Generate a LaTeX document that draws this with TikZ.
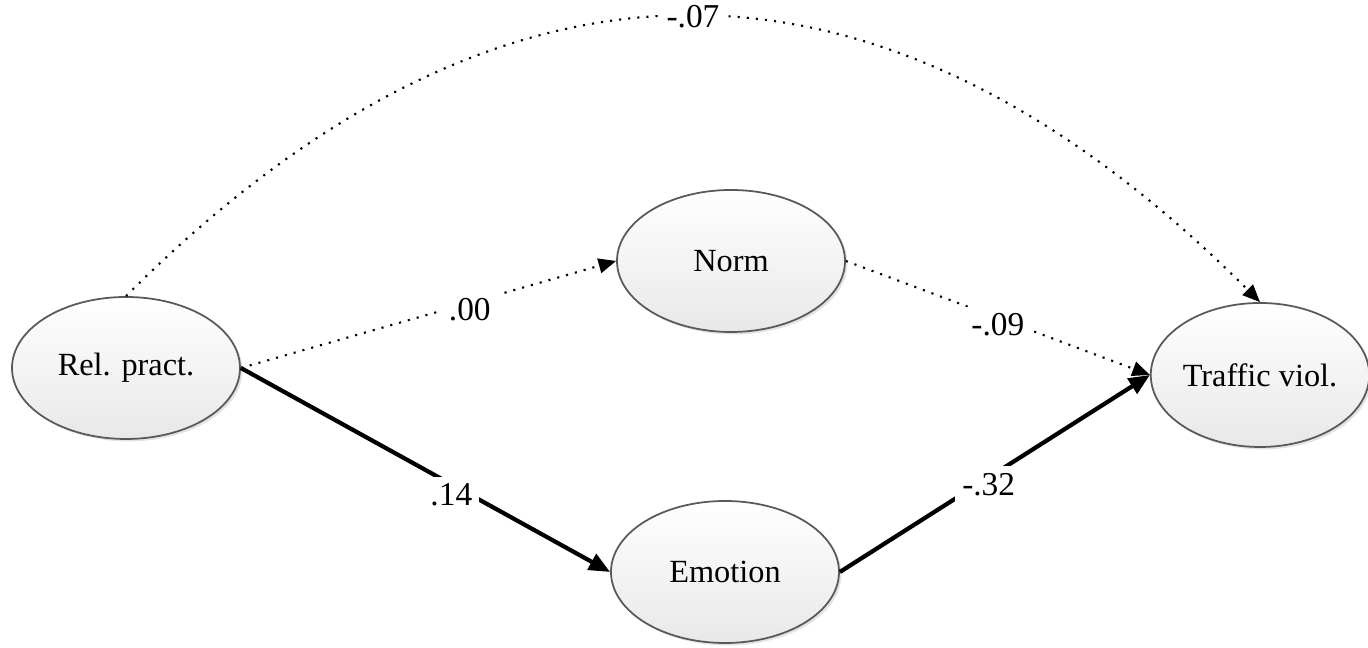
\documentclass[tikz,border=0pt]{standalone}
\usepackage{fontspec}
\setmainfont{Liberation Serif}
\usetikzlibrary{shapes.geometric,arrows.meta,shadows}

\tikzset{
  latent/.style={ellipse,draw=black!65,line width=0.5pt,top color=white,bottom color=black!9,
    drop shadow={shadow xshift=0.7pt,shadow yshift=-0.7pt,fill=black!22},inner sep=0pt,
    minimum width=2.28cm,minimum height=1.42cm,font=\fontsize{9.2}{11}\selectfont},
  direct/.style={line width=1.2pt,-{Triangle[length=6pt,width=5pt]}},
  nonsig/.style={line width=0.6pt,dotted,-{Triangle[length=5pt,width=4.2pt]}},
  coef/.style={fill=white,inner sep=2pt,font=\fontsize{9.5}{11}\selectfont}
}

\begin{document}
\begin{tikzpicture}
\useasboundingbox (0,0) rectangle (13.68,6.48);

\node[latent] (rel) at (1.26,2.80) {Rel. pract.};
\node[latent] (norm) at (7.31,3.87) {Norm};
\node[latent] (emot) at (7.25,0.76) {Emotion};
\node[latent,minimum width=2.14cm,minimum height=1.44cm] (traffic) at (12.60,2.73) {Traffic viol.};

\draw[nonsig] (rel.east) -- (norm.west) node[coef,pos=0.61,yshift=-2pt] (c1) {.00};
\draw[direct] (rel.east) -- (emot.west) node[coef,pos=0.57,yshift=-3pt] (c2) {.14};
\draw[nonsig] (norm.east) -- (traffic.west) node[coef,pos=0.5,yshift=-2pt] (c3) {-.09};
\draw[direct] (emot.east) -- (traffic.west) node[coef,pos=0.48,yshift=-2pt] (c4) {-.32};

\draw[nonsig] (rel.north) to[out=45,in=135,looseness=1.2] node[coef,pos=0.5] (c5) {-.07} (traffic.north);

\end{tikzpicture}
\end{document}
